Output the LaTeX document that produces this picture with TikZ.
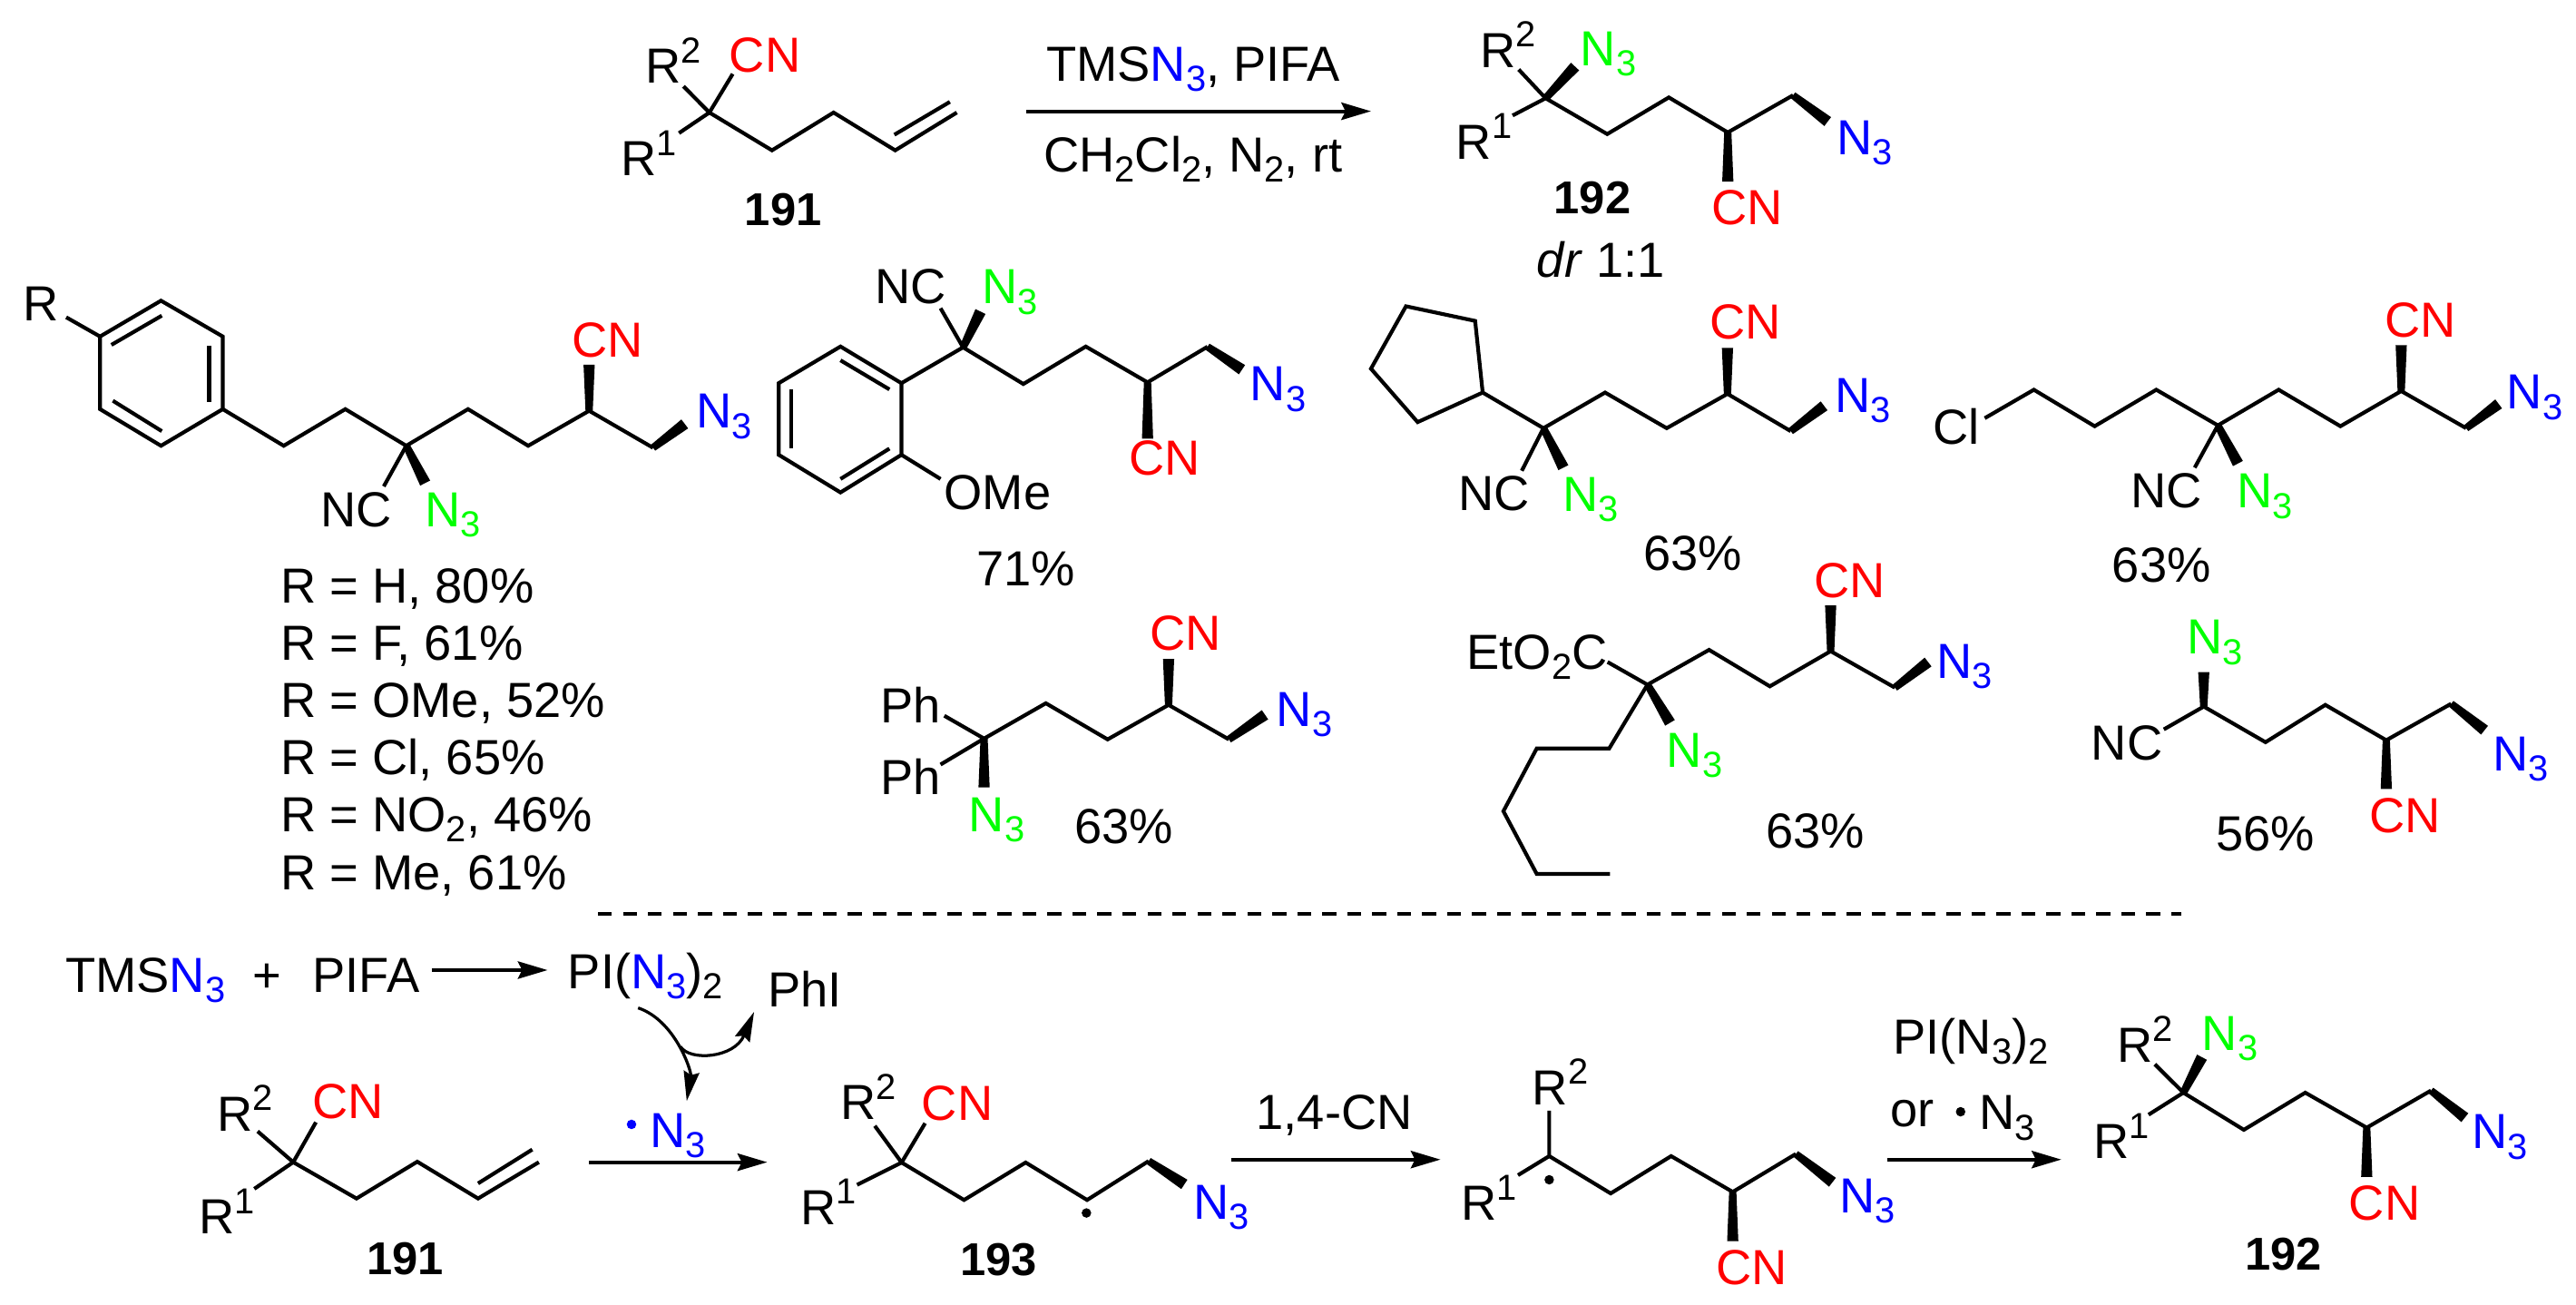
\documentclass[tikz,border=0pt]{standalone}
\usepackage{fontspec}
\setmainfont{Liberation Sans}
\usepackage{xcolor}
\usetikzlibrary{arrows.meta,calc}

\newcommand{\lowr}[1]{\raisebox{-6.2pt}{\fontsize{22}{22}\selectfont #1}}
\newcommand{\upr}[1]{\raisebox{12.3pt}{\fontsize{22}{22}\selectfont #1}}
\newcommand{\Nthree}[1]{\textcolor{#1}{N\lowr{3}}}
\newcommand{\wdg}[2]{\fill ($#1!2.2pt!90:#2$) -- ($#2!3.4pt!-90:#1$) -- ($#2!3.4pt!90:#1$) -- ($#1!2.2pt!-90:#2$) -- cycle;}

\tikzset{
  bond/.style={line width=2.3pt},
  rxn/.style={line width=2.2pt,-{Stealth[length=18pt,width=10.5pt,inset=2.5pt]}},
  curly/.style={line width=1.8pt,-{Stealth[length=18pt,width=9.5pt,inset=2pt]}},
  lbl/.style={inner sep=0pt,anchor=base west,xshift=-1.2pt,font=\fontsize{30}{32}\selectfont},
  cmpd/.style={inner sep=0pt,anchor=base,font=\fontsize{28}{30}\selectfont\bfseries},
  raddot/.style={radius=2.9pt}
}

\begin{document}
\begin{tikzpicture}[x=1pt,y=-1pt]
    \useasboundingbox (0,0) rectangle (1568,794);

    % Substrate 191 (top)
    \draw[bond] (413.3,81) -- (431.8,68.5) -- (416,52.5);
    \draw[bond] (431.8,68.5) -- (446,45);
    \draw[bond] (431.8,68.5) -- (469.9,91.5) -- (507.4,68.5) -- (544.9,91.5) -- (582.4,68.5);
    \draw[bond] (544.4,82) -- (578.2,62);
    \node[lbl] (rtwoA) at (393.8,50.6) {R\upr{2}};
    \node[lbl,red] (cnA) at (445,43.8) {CN};
    \node[lbl] (roneA) at (379,106.8) {R\upr{1}};
    \node[cmpd] (numA) at (476.7,137.2) {191};

    % Top reaction arrow
    \coordinate (arrAs) at (624.7,67.7);
    \coordinate (arrAe) at (834.5,67.7);
    \draw[rxn] (arrAs) -- (arrAe);
    \node[lbl] (condA) at (637.9,49.3) {TMS\Nthree{blue}, PIFA};
    \node[lbl] (condB) at (636.3,104.6) {CH\lowr{2}Cl\lowr{2}, N\lowr{2}, rt};

    % Product 192 (top)
    \draw[bond] (920.7,70.3) -- (940.8,59.8) -- (924.4,42.3);
    \draw[bond] (940.8,59.8) -- (978.3,81.6) -- (1015.8,59.3) -- (1051.7,80.6) -- (1091.4,58);
    \wdg{(940.8,59.8)}{(958.7,40.5)}
    \wdg{(1091.4,58)}{(1112.5,74)}
    \wdg{(1051.7,80.6)}{(1051.7,110.5)}
    \node[lbl] (rtwoB) at (902.2,40.9) {R\upr{2}};
    \node[lbl] (n3gB) at (963,40.1) {\Nthree{green}};
    \node[lbl] (roneB) at (887.4,96.7) {R\upr{1}};
    \node[lbl] (n3bB) at (1118.9,93.9) {\Nthree{blue}};
    \node[lbl,red] (cnB) at (1042.8,136.8) {CN};
    \node[cmpd] (numB) at (969.3,129.8) {192};
    \node[lbl] (drB) at (936.5,168.5) {\textit{dr} 1:1};

    % Aryl product with R list
    \draw[bond] (98,183) -- (135.6,204.8) -- (135.6,249) -- (98,271.3) -- (60.9,249) -- (60.9,204.8) -- cycle;
    \draw[bond] (67.8,209.9) -- (98.5,192.1);
    \draw[bond] (127.3,210.4) -- (127.3,244.6);
    \draw[bond] (68.7,243.9) -- (98.5,262.4);
    \draw[bond] (40.3,193.1) -- (60.9,204.8);
    \draw[bond] (135.6,249) -- (172.7,271.3) -- (210.2,249) -- (247.3,271.3) -- (284.9,249) -- (321.5,271.3) -- (358.6,250) -- (397.5,272.5);
    \draw[bond] (247.3,271.3) -- (233.6,296);
    \wdg{(397.5,272.5)}{(416.8,258)}
    \wdg{(358.6,250)}{(358.6,222)}
    \wdg{(247.3,271.3)}{(258.8,294)}
    \node[lbl] (rC) at (15,195) {R};
    \node[lbl,red] (cnC) at (349,217.5) {CN};
    \node[lbl] (n3bC) at (425,260.6) {\Nthree{blue}};
    \node[lbl] (ncC) at (196,320.7) {NC};
    \node[lbl] (n3gC) at (259.7,320.7) {\Nthree{green}};
    \node[lbl] (yieldCa) at (171.8,367) {R = H, 80\%};
    \node[lbl] (yieldCb) at (171.8,401.9) {R = F, 61\%};
    \node[lbl] (yieldCc) at (171.8,436.6) {R = OMe, 52\%};
    \node[lbl] (yieldCd) at (171.8,471.6) {R = Cl, 65\%};
    \node[lbl] (yieldCe) at (171.8,506.3) {R = NO\lowr{2}, 46\%};
    \node[lbl] (yieldCf) at (171.8,541.3) {R = Me, 61\%};

    % OMe product
    \draw[bond] (511.6,210.9) -- (548.7,233.2) -- (548.7,276.8) -- (511.6,299.7) -- (474,276.8) -- (474,233.2) -- cycle;
    \draw[bond] (511.6,219.3) -- (541.4,237);
    \draw[bond] (481.8,237) -- (481.8,273);
    \draw[bond] (511.6,291.5) -- (541.4,273);
    \draw[bond] (548.7,276.8) -- (572.5,291.5);
    \draw[bond] (548.7,233.2) -- (586.2,211.4) -- (622.9,233.7) -- (660.9,210.9) -- (698.5,232.7) -- (735,211);
    \draw[bond] (586.2,211.4) -- (572.5,187.6);
    \wdg{(586.2,211.4)}{(596.8,189.6)}
    \wdg{(735,211)}{(756,225)}
    \wdg{(698.5,232.7)}{(698.5,267)}
    \node[lbl] (ncD) at (533.6,185) {NC};
    \node[lbl] (n3gD) at (598.6,185) {\Nthree{green}};
    \node[lbl] (n3bD) at (762,244) {\Nthree{blue}};
    \node[lbl,red] (cnD) at (688.4,289) {CN};
    \node[lbl] (omeD) at (575.7,310) {OMe};
    \node[lbl] (yieldD) at (595.4,356.7) {71\%};

    % Cyclopentyl product
    \draw[bond] (855.8,186.4) -- (897.9,195.3) -- (902.5,238.9) -- (862.9,256.9) -- (834.5,224.4) -- cycle;
    \draw[bond] (902.5,238.9) -- (939.5,260.6) -- (977,238.9) -- (1014.5,260.6) -- (1051.5,239.7) -- (1090,262.4);
    \draw[bond] (939.5,260.6) -- (926.3,286.5);
    \wdg{(1090,262.4)}{(1110.3,247)}
    \wdg{(1051.5,239.7)}{(1051.5,211.8)}
    \wdg{(939.5,260.6)}{(951.6,284.6)}
    \node[lbl,red] (cnE) at (1041.9,206.4) {CN};
    \node[lbl] (n3bE) at (1117.9,250.8) {\Nthree{blue}};
    \node[lbl] (ncE) at (888.8,310.5) {NC};
    \node[lbl] (n3gE) at (952.1,311.2) {\Nthree{green}};
    \node[lbl] (yieldE) at (1001.3,347) {63\%};

    % Chloro product
    \draw[bond] (1208.1,254.5) -- (1238,237.2) -- (1275,259.4) -- (1312.5,237.2) -- (1350,258.9) -- (1387,237.2) -- (1424.6,259.4) -- (1461.6,238) -- (1501.1,260.6);
    \draw[bond] (1350,258.9) -- (1335.9,284.6);
    \wdg{(1501.1,260.6)}{(1520.9,245.8)}
    \wdg{(1461.6,238)}{(1461.6,210.1)}
    \wdg{(1350,258.9)}{(1362.2,282.1)}
    \node[lbl] (clF) at (1177.7,270.5) {Cl};
    \node[lbl,red] (cnF) at (1452.5,205.2) {CN};
    \node[lbl] (n3bF) at (1527,249) {\Nthree{blue}};
    \node[lbl] (ncF) at (1297.8,309.2) {NC};
    \node[lbl] (n3gF) at (1362.7,309.2) {\Nthree{green}};
    \node[lbl] (yieldF) at (1286.7,354.3) {63\%};

    % Diphenyl product
    \draw[bond] (574.8,435.6) -- (599,449.5) -- (572.5,465.3);
    \draw[bond] (599,449.5) -- (636.6,428) -- (674.2,450) -- (711.3,429) -- (748,450);
    \wdg{(599,449.5)}{(599,479.2)}
    \wdg{(711.3,429)}{(711.3,401)}
    \wdg{(748,450)}{(770,435)}
    \node[lbl] (phG) at (536.8,439.9) {Ph};
    \node[lbl] (phH) at (536.8,483.5) {Ph};
    \node[lbl] (n3gG) at (590.8,506.3) {\Nthree{green}};
    \node[lbl,red] (cnG) at (701,396) {CN};
    \node[lbl] (n3bG) at (778,442) {\Nthree{blue}};
    \node[lbl] (yieldG) at (655,513.5) {63\%};

    % Ester product
    \draw[bond] (978.5,402.9) -- (1002.8,416.7) -- (1040.3,395.5) -- (1077.3,417.7) -- (1114.3,396.3) -- (1153.4,418.5);
    \draw[bond] (1002.8,416.7) -- (979.5,455.5) -- (935.4,455.5) -- (915.1,493.7) -- (935.4,531.9) -- (980,531.9);
    \wdg{(1153.4,418.5)}{(1173.6,402.9)}
    \wdg{(1114.3,396.3)}{(1114.3,368.4)}
    \wdg{(1002.8,416.7)}{(1016.5,439.9)}
    \node[lbl] (estH) at (893.8,407.4) {EtO\lowr{2}C};
    \node[lbl,red] (cnH) at (1105.2,363.5) {CN};
    \node[lbl] (n3bH) at (1179.7,412.8) {\Nthree{blue}};
    \node[lbl] (n3gH) at (1015.5,467) {\Nthree{green}};
    \node[lbl] (yieldH) at (1075.8,516.4) {63\%};

    % Nitrile product
    \draw[bond] (1317.1,443.9) -- (1341.4,430) -- (1379,451.7) -- (1415.4,429) -- (1452.5,450.5) -- (1492,428.3);
    \wdg{(1341.4,430)}{(1341.4,409)}
    \wdg{(1492,428.3)}{(1512.3,444.4)}
    \wdg{(1452.5,450.5)}{(1452.5,480.1)}
    \node[lbl] (n3gI) at (1332.3,398.2) {\Nthree{green}};
    \node[lbl] (ncI) at (1274,462.8) {NC};
    \node[lbl] (n3bI) at (1518.3,469) {\Nthree{blue}};
    \node[lbl,red] (cnI) at (1443.3,506.5) {CN};
    \node[lbl] (yieldI) at (1350,517.8) {56\%};

    % Dashed divider
    \coordinate (divs) at (364,556);
    \coordinate (dive) at (1328,556);
    \draw[line width=2pt,dash pattern=on 8.5pt off 6.7pt] (divs) -- (dive);

    % Azide formation
    \node[lbl] (tms) at (40.9,603.8) {TMS\Nthree{blue}};
    \node[lbl] (plus) at (155,603.8) {+};
    \node[lbl] (pifa) at (191.3,603.8) {PIFA};
    \node[lbl] (pin) at (346.7,601.6) {PI(\Nthree{blue})\lowr{2}};
    \node[lbl] (phi) at (468.4,612.7) {PhI};
    \coordinate (arrBs) at (262.8,590.4);
    \coordinate (arrBe) at (333.3,590.4);
    \draw[rxn] (arrBs) -- (arrBe);
    \coordinate (curlAs) at (388.4,613.4);
    \coordinate (curlAe) at (418,670.1);
    \coordinate (curlBs) at (414.2,637);
    \coordinate (curlBe) at (459,615.8);
    \draw[curly] (curlAs) .. controls (411,621) and (421,652) .. (curlAe);
    \draw[curly] (curlBs) .. controls (420,646) and (447,644) .. (curlBe);

    % Substrate 191 (bottom)
    \draw[bond] (154.8,723.5) -- (178.5,707.3) -- (156.8,688.5);
    \draw[bond] (178.5,707.3) -- (192.3,683);
    \draw[bond] (178.5,707.3) -- (217,729.4) -- (254,707) -- (291,729.4) -- (328,707.3);
    \draw[bond] (291,720.2) -- (324,699.6);
    \node[lbl] (rtwoJ) at (133.1,688.2) {R\upr{2}};
    \node[lbl,red] (cnJ) at (191.3,680.6) {CN};
    \node[lbl] (roneJ) at (122.3,751.1) {R\upr{1}};
    \node[cmpd] (numJ) at (246.6,775.6) {191};

    % Azide radical arrow
    \coordinate (arrCs) at (358.5,707.3);
    \coordinate (arrCe) at (467,707.3);
    \draw[rxn] (arrCs) -- (arrCe);
    \fill[blue,raddot] (384.4,684.3) circle;
    \node[lbl] (radn) at (396.7,698.3) {\Nthree{blue}};

    % Radical 193
    \draw[bond] (521.7,721.1) -- (548.8,707.5) -- (532.5,685.2);
    \draw[bond] (548.8,707.5) -- (563.1,683.6);
    \draw[bond] (548.8,707.5) -- (586.8,730.3) -- (624.3,707.5) -- (661.7,730.3) -- (699.2,706.6);
    \wdg{(699.2,706.6)}{(720.9,720.8)}
    \fill[raddot] (661.3,738.2) circle;
    \node[lbl] (rtwoK) at (512.8,681.5) {R\upr{2}};
    \node[lbl,red] (cnK) at (562.1,681.7) {CN};
    \node[lbl] (roneK) at (488.2,745.2) {R\upr{1}};
    \node[lbl] (n3bK) at (727.3,741.9) {\Nthree{blue}};
    \node[cmpd] (numK) at (608,776) {193};

    % Cyano shift arrow
    \coordinate (arrDs) at (749.4,705.7);
    \coordinate (arrDe) at (876.8,705.7);
    \draw[rxn] (arrDs) -- (arrDe);
    \node[lbl] (shift) at (765.7,687.6) {1,4-CN};

    % Radical after shift
    \draw[bond] (924,715.2) -- (943,703.6) -- (943,676);
    \draw[bond] (943,703.6) -- (980.4,726.3) -- (1017.2,703.6) -- (1054.7,725.4) -- (1093.1,702.3);
    \wdg{(1093.1,702.3)}{(1115.4,719.5)}
    \wdg{(1054.7,725.4)}{(1054.7,755.4)}
    \fill[raddot] (943,718) circle;
    \node[lbl] (rtwoL) at (933.8,672.3) {R\upr{2}};
    \node[lbl] (roneL) at (890.4,742.8) {R\upr{1}};
    \node[lbl] (n3bL) at (1120.8,738.2) {\Nthree{blue}};
    \node[lbl,red] (cnL) at (1045.4,782) {CN};

    % Last arrow
    \coordinate (arrEs) at (1149,705.7);
    \coordinate (arrEe) at (1254.7,705.7);
    \draw[rxn] (arrEs) -- (arrEe);
    \node[lbl] (pinE) at (1153.3,641.6) {PI(N\lowr{3})\lowr{2}};
    \node[lbl] (orE) at (1151.7,685.5) {or};
    \fill[raddot] (1193.4,676.6) circle;
    \node[lbl] (radE) at (1205.9,687.6) {N\lowr{3}};

    % Product 192 (bottom)
    \draw[bond] (1307.8,678.4) -- (1329,665) -- (1311.6,647.7);
    \draw[bond] (1329,665) -- (1365.8,687.6) -- (1403.2,665) -- (1440.6,686.3) -- (1479.7,663.7);
    \wdg{(1329,665)}{(1340.3,643.4)}
    \wdg{(1479.7,663.7)}{(1500.3,680.2)}
    \wdg{(1440.6,686.3)}{(1440.6,716.2)}
    \node[lbl] (rtwoM) at (1289.9,646.2) {R\upr{2}};
    \node[lbl] (n3gM) at (1341.4,639.2) {\Nthree{green}};
    \node[lbl] (roneM) at (1275.3,705.1) {R\upr{1}};
    \node[lbl] (n3bM) at (1505.7,699.2) {\Nthree{blue}};
    \node[lbl,red] (cnM) at (1430.9,742.5) {CN};
    \node[cmpd] (numM) at (1390,772.9) {192};
\end{tikzpicture}
\end{document}
